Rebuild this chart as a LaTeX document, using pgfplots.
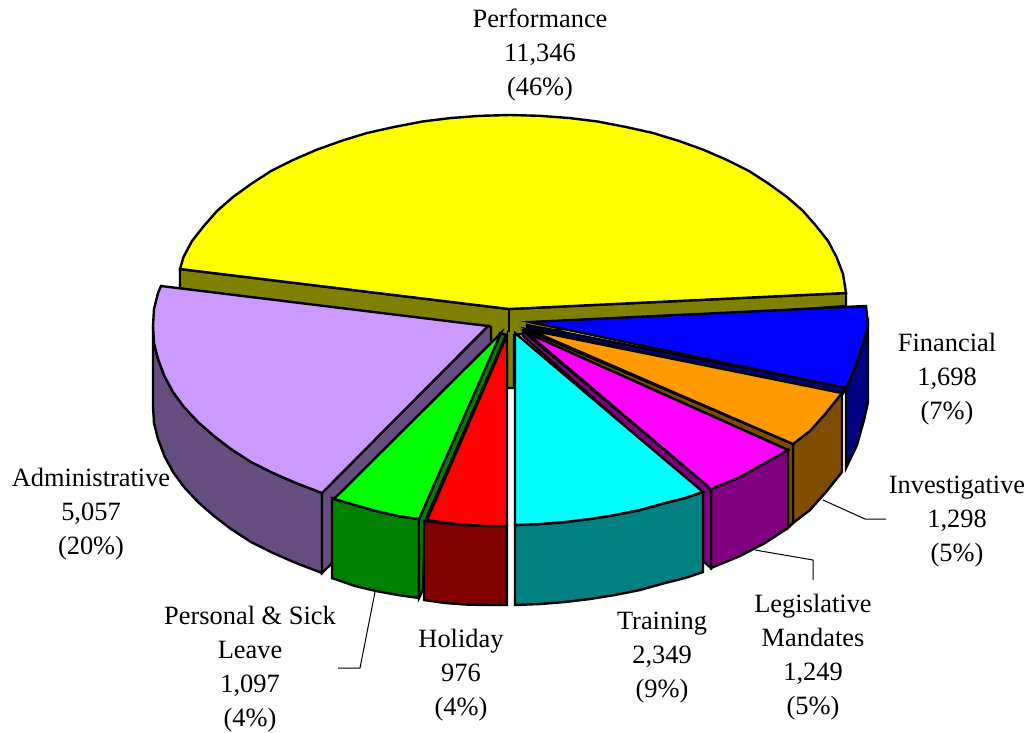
\documentclass[border=0pt]{standalone}
\usepackage{pgfplots}
\pgfplotsset{compat=1.18}
\usepackage{fontspec}
\setmainfont{Liberation Serif}
\definecolor{olive}{HTML}{808000}
\definecolor{lilac}{HTML}{CC99FF}
\definecolor{lilacd}{HTML}{664D80}
\definecolor{orangex}{HTML}{FF9900}
\definecolor{brownx}{HTML}{804D00}
\definecolor{greend}{HTML}{008000}
\definecolor{greenx}{HTML}{00FF00}
\definecolor{redd}{HTML}{800000}
\definecolor{redx}{HTML}{FF0000}
\definecolor{tealx}{HTML}{008080}
\definecolor{cyanx}{HTML}{00FFFF}
\definecolor{purplex}{HTML}{800080}
\definecolor{magentax}{HTML}{FF00FF}
\definecolor{navyx}{HTML}{000080}
\definecolor{bluex}{HTML}{0000FF}
\definecolor{yellowx}{HTML}{FFFF00}
\begin{document}
\begin{tikzpicture}[x=1pt,y=1pt]
\path[use as bounding box] (0,0) rectangle (1028pt,732pt);
\begin{axis}[at={(0,0)},anchor=south west,width=1028pt,height=732pt,scale only axis,
  xmin=0,xmax=1028,ymin=0,ymax=732,y dir=reverse,hide axis,clip=false,no markers,
  every axis plot/.append style={draw=black,line width=2.4pt,line join=miter}]
% Performance: wall and top
\addplot[fill=olive] coordinates {(180,269)(509,309)(846,293)(846,306)(600,325)(514,335)(514,388)(507,388)(507,360)(480,360)(490,328)(180,289)} --cycle;
\addplot[fill=yellowx] coordinates {(180,269)(183.5,257)(192,241)(204,225.8)(217,211)(233,197)(251,184)(271,171)(293,160)(316,150)(341,141)(367,133)(394,127)(422.5,121.5)(451,118)(480.5,115.8)(510,115)(539.5,115.8)(569,118)(597.5,121.5)(626,127)(653,133)(679,141)(704,150)(727,160)(749,171)(769,184)(787,197)(803,211)(816,225.8)(828,241)(836.5,257)(843,274)(846,293)(509,309)} --cycle;
\addplot[line width=2.4pt] coordinates {(509,309)(509,332)};
% Financial
\addplot[fill=navyx] coordinates {(868,325)(864,340)(856,365)(846,388)(846,468)(857,445)(864,420)(868,402)} --cycle;
\addplot[fill=navyx] coordinates {(527,325)(846,388)(842,395)(527,328)} --cycle;
\addplot[fill=bluex] coordinates {(530,322)(866,306)(868,325)(864,340)(856,365)(846,388)} --cycle;
% Investigative
\addplot[fill=brownx] coordinates {(793,444)(810,431)(826,413)(842,393)(842,472)(826,492)(810,510)(793,523)} --cycle;
\addplot[fill=brownx] coordinates {(524,329)(793,444)(793,523)(788,528)(788,450)(524,332)} --cycle;
\addplot[fill=orangex] coordinates {(530,330)(842,393)(826,413)(810,431)(793,444)} --cycle;
% Legislative Mandates
\addplot[fill=purplex] coordinates {(711,489)(740,477)(765,463)(788,450)(788,528)(765,543)(740,556)(711,568)} --cycle;
\addplot[fill=purplex] coordinates {(523,331)(711,489)(711,568)(703,561)(703,495)(523,336)} --cycle;
\addplot[fill=magentax] coordinates {(527,333)(788,450)(765,463)(740,477)(711,489)} --cycle;
% Training
\addplot[fill=tealx] coordinates {(515,525)(540,524)(565,522)(590,519)(615,515)(640,510)(665,503)(685,498)(703,492)(703,572)(685,578)(665,583)(640,590)(615,595)(590,599)(565,602)(540,604)(515,605)} --cycle;
\addplot[fill=cyanx] coordinates {(515,333)(703,492)(685,498)(665,503)(640,510)(615,515)(590,519)(565,522)(540,524)(515,525)} --cycle;
% Administrative
\addplot[fill=lilacd] coordinates {(153,326)(154,343)(158,359)(164.4,376)(173,392)(184,407)(198,422)(214,436)(231,449)(251,462)(273,473)(296,483)(322,493)(322,573)(296,563)(273,553)(251,542)(231,529)(214,516)(198,502)(184,487)(173,472)(164.4,456)(158,439)(154,423)(153,406)} --cycle;
\addplot[fill=lilacd] coordinates {(322,493)(488,326)(491,327)(491,405)(322,573)} --cycle;
\addplot[fill=lilac] coordinates {(161,286)(158,293)(154,309)(153,326)(154,343)(158,359)(164.4,376)(173,392)(184,407)(198,422)(214,436)(231,449)(251,462)(273,473)(296,483)(322,493)(488,326)} --cycle;
% Personal and Sick Leave
\addplot[fill=greend] coordinates {(332,498)(355,505)(376,511)(398,516)(419,519)(419,598)(398,595)(376,591)(355,586)(332,578)} --cycle;
\addplot[fill=greend] coordinates {(419,519)(500,333)(506,335)(425,521)(423,590)(419,598)} --cycle;
\addplot[fill=greenx] coordinates {(334,499)(355,505)(376,511)(398,516)(419,519)(501,333)} --cycle;
% Holiday
\addplot[fill=redd] coordinates {(424,521)(445,523)(465,525)(485,526)(507,526)(507,605)(485,605)(465,604.5)(445,603)(424,600)} --cycle;
\addplot[fill=redx] coordinates {(507,335)(507,526)(487,526)(467,525)(447,523)(427,520)} --cycle;
% Leader lines
\addplot[line width=1pt] coordinates {(823,500)(865,519)(886,519)};
\addplot[line width=1pt] coordinates {(755,550)(813,560)(813,580)};
\addplot[line width=1pt] coordinates {(375,592)(360,668)(338,668)};
% Labels
\tikzset{lab/.style={align=center,inner sep=0pt,font=\fontsize{26.4}{34}\selectfont,anchor=center}}
\node[lab] at (axis cs:540,55.5) {Performance\\11,346\\(46\%)};
\node[lab] at (axis cs:947,379.5) {Financial\\1,698\\(7\%)};
\node[lab] at (axis cs:957,521.5) {Investigative\\1,298\\(5\%)};
\node[lab] at (axis cs:813,657.5) {Legislative\\Mandates\\1,249\\(5\%)};
\node[lab] at (axis cs:662,657.5) {Training\\2,349\\(9\%)};
\node[lab] at (axis cs:461,675.5) {Holiday\\976\\(4\%)};
\node[lab] at (axis cs:250,669.5) {Personal \& Sick\\Leave\\1,097\\(4\%)};
\node[lab] at (axis cs:91,514.5) {Administrative\\5,057\\(20\%)};
\end{axis}
\end{tikzpicture}
\end{document}
